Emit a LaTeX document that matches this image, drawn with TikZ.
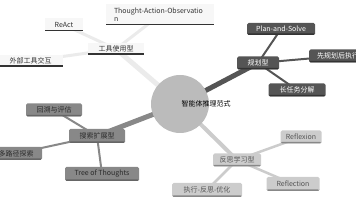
\documentclass[tikz,border=0pt]{standalone}
\usepackage{fontspec}
\setmainfont{Noto Sans CJK SC}
\usetikzlibrary{backgrounds}
\definecolor{toolfill}{HTML}{F7F7F7}
\definecolor{toolline}{HTML}{333333}
\definecolor{tooltext}{HTML}{333333}
\definecolor{tooledge}{HTML}{EBEBEB}
\definecolor{planfill}{HTML}{555555}
\definecolor{planline}{HTML}{333333}
\definecolor{searchfill}{HTML}{888888}
\definecolor{searchline}{HTML}{666666}
\definecolor{searchtext}{HTML}{2A2A2A}
\definecolor{reflfill}{HTML}{CCCCCC}
\definecolor{reflline}{HTML}{888888}
\definecolor{refltext}{HTML}{555555}
\definecolor{rootfill}{HTML}{BBBBBB}
\begin{document}
\begin{tikzpicture}[x=1pt,y=1pt,
  every node/.style={font=\fontsize{7}{8}\selectfont, inner sep=0pt},
  basebox/.style n args={3}{rectangle, fill=#1, text=#3,
    path picture={\fill[#2] ([yshift=1.6pt]path picture bounding box.south west) rectangle (path picture bounding box.south east);}},
  toolbox/.style={basebox={toolfill}{toolline}{tooltext}},
  planbox/.style={basebox={planfill}{planline}{white}, rounded corners=1.5pt},
  searchbox/.style={basebox={searchfill}{searchline}{searchtext}, rounded corners=1.5pt},
  reflbox/.style={basebox={reflfill}{reflline}{refltext}, rounded corners=1.5pt},
  sz/.style 2 args={minimum width=#1, minimum height=#2},
  trunk/.style={line width=#1},
  twig/.style={line width=#1}
]
\useasboundingbox (0,0) rectangle (356,-200);

% root
\node[circle, fill=rootfill, minimum size=58pt] (root) at (180,-104) {};
\node[text=black] (rootlabel) at (206,-104) {智能体推理范式};

% tool-use branch
\node[toolbox, sz={56pt}{12pt}] (tool) at (116,-49) {工具使用型};
\node[toolbox, sz={38pt}{13pt}] (react) at (64,-25) {ReAct};
\node[toolbox, sz={108pt}{21pt}, align=left, text width=92pt] (tao) at (160,-15) {Thought-Action-Observatio\\n};
\node[toolbox, sz={65pt}{12pt}] (ext) at (30.5,-61) {外部工具交互};

% planning branch
\node[planbox, sz={58pt}{13pt}] (pfirst) at (338,-56) {先规划后执行};
\node[planbox, sz={42pt}{13pt}] (plan) at (258,-63) {规划型};
\node[planbox, sz={68pt}{12pt}] (pas) at (281,-29) {Plan-and-Solve};
\node[planbox, sz={57pt}{13pt}] (longtask) at (297,-90) {长任务分解};

% search branch
\node[searchbox, sz={56pt}{14pt}] (search) at (97,-136) {搜索扩展型};
\node[searchbox, sz={56pt}{13pt}] (backtrack) at (54,-110) {回溯与评估};
\node[searchbox, sz={52pt}{13pt}] (multipath) at (16,-153.5) {多路径探索};
\node[searchbox, sz={74pt}{14pt}] (tot) at (102,-174) {Tree of Thoughts};

% reflection branch
\node[reflbox, sz={48pt}{13pt}] (refl) at (237,-160) {反思学习型};
\node[reflbox, sz={41pt}{13pt}] (reflexion) at (301,-137) {Reflexion};
\node[reflbox, sz={53pt}{14pt}] (reflection) at (293,-184) {Reflection};
\node[reflbox, sz={70pt}{14pt}] (exec) at (207,-190) {执行-反思-优化};

\begin{scope}[on background layer]
  \draw[tooledge, trunk=5pt] (root.center) -- (tool.center);
  \draw[tooledge, twig=3pt] (tool.center) -- (react.center);
  \draw[tooledge, twig=3pt] (tool.center) -- (tao.center);
  \draw[tooledge, twig=3pt] (tool.center) -- (ext.center);
  \draw[planfill, trunk=5pt] (root.center) -- (plan.center);
  \draw[planfill, twig=2pt] (plan.center) -- (pas.center);
  \draw[planfill, twig=2pt] (plan.center) -- (pfirst.center);
  \draw[planfill, twig=2pt] (plan.center) -- (longtask.center);
  \draw[searchfill, trunk=5pt] (root.center) -- (search.center);
  \draw[searchfill, twig=2pt] (search.center) -- (backtrack.center);
  \draw[searchfill, twig=2pt] (search.center) -- (multipath.center);
  \draw[searchfill, twig=2pt] (search.center) -- (tot.center);
  \draw[reflfill, trunk=4pt] (root.center) -- (refl.center);
  \draw[reflfill, twig=2.5pt] (refl.center) -- (reflexion.center);
  \draw[reflfill, twig=2.5pt] (refl.center) -- (reflection.center);
  \draw[reflfill, twig=2.5pt] (refl.center) -- (exec.center);
\end{scope}
\end{tikzpicture}
\end{document}
